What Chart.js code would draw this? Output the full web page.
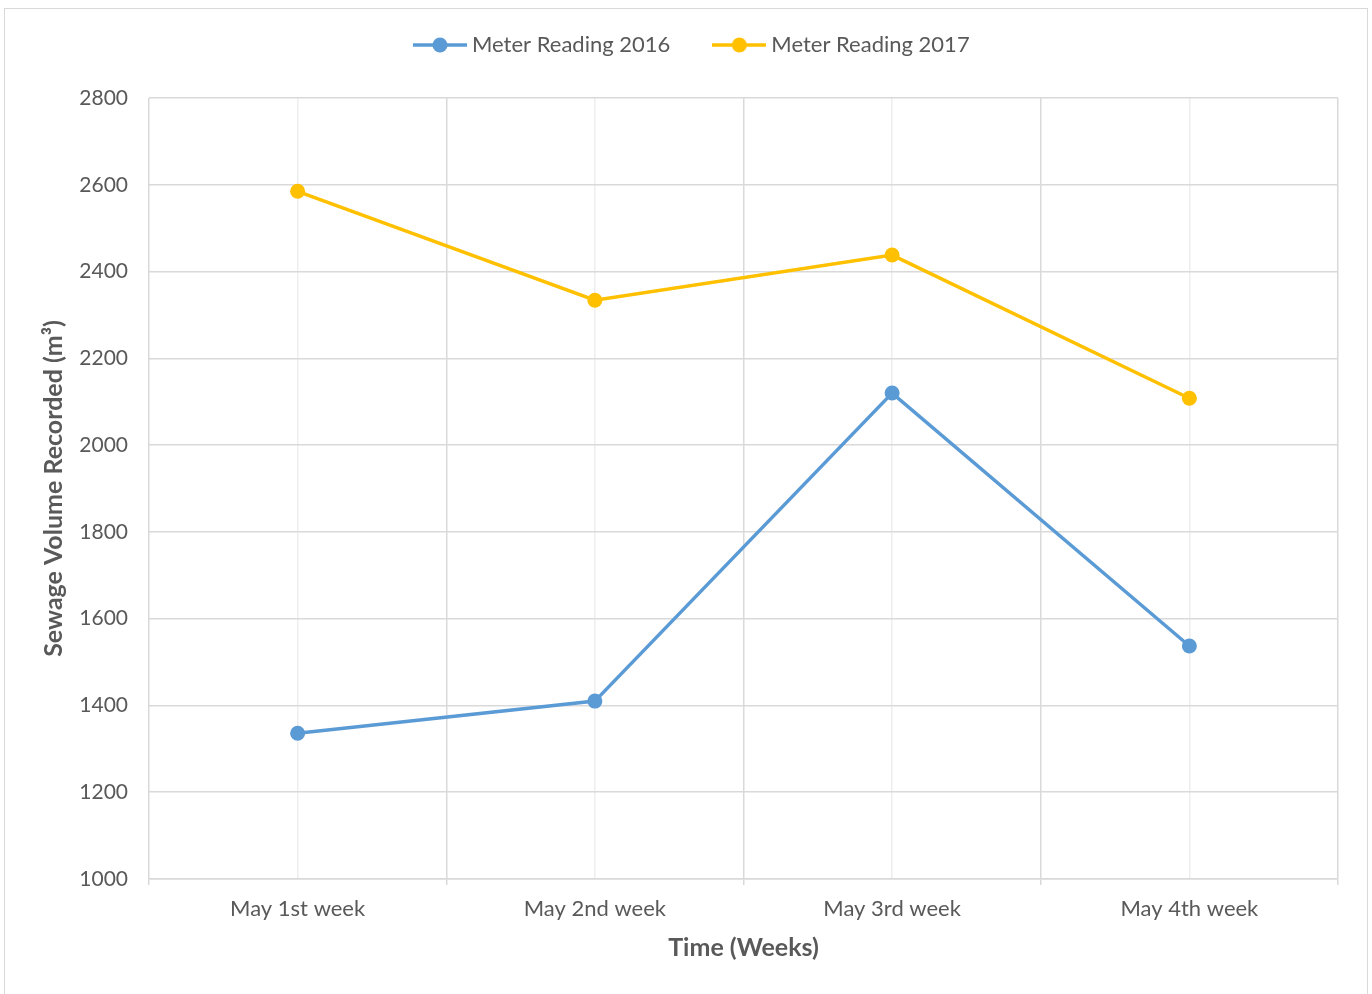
<!DOCTYPE html>
<html>
<head>
<meta charset="utf-8">
<script src="https://cdn.jsdelivr.net/npm/chart.js@4"></script>
<style>
  html, body { margin: 0; padding: 0; background: #fff; }
  #frame { position: absolute; left: 4px; top: 8px; width: 1364px; height: 1000px; border: 1px solid #d9d9d9; box-sizing: border-box; }
  #wrap { position: absolute; left: 0; top: 0; width: 1372px; height: 994px; }
</style>
</head>
<body>
<div id="frame"></div>
<div id="wrap"><canvas id="c" width="1372" height="994"></canvas></div>
<script>
const categories = ['May 1st week', 'May 2nd week', 'May 3rd week', 'May 4th week'];
const seriesNames = ['Meter Reading 2016', 'Meter Reading 2017'];
const reading2016 = [1336, 1410, 2120, 1537];
const reading2017 = [2585, 2334, 2438, 2108];
const yTicks = { min: 1000, max: 2800, step: 200 };
const xTitle = 'Time (Weeks)';
const yTitle = 'Sewage Volume Recorded (m³)';

const colors = ['#5b9bd5', '#ffc000'];
const FONT = 'Lato, "Open Sans", sans-serif';
const TEXT = '#595959';

function legendIcon(color) {
  const c = document.createElement('canvas');
  c.width = 54; c.height = 16;
  const g = c.getContext('2d');
  g.strokeStyle = color; g.lineWidth = 3.5;
  g.beginPath(); g.moveTo(0, 8); g.lineTo(54, 8); g.stroke();
  g.fillStyle = color;
  g.beginPath(); g.arc(27, 8, 7.5, 0, Math.PI * 2); g.fill();
  return c;
}
const icons = colors.map(legendIcon);

const LEGEND_BAND = 98;   // space above the plot area
const legendPlacer = {
  id: 'legendPlacer',
  beforeLayout(chart) {
    const lg = chart.legend;
    if (lg && !lg._wrappedFit) {
      const origFit = lg.fit.bind(lg);
      lg.fit = function () { origFit(); this.height = LEGEND_BAND; };
      lg._wrappedFit = true;
    }
  },
  afterLayout(chart) {
    const lg = chart.legend;
    if (!lg) return;
    const pad = lg.options.labels.padding;
    const h = lg.height;
    lg.top = 45 - 11 - pad;
    lg.bottom = lg.top + h;
    const lw = lg.lineWidths[0];
    const w = lg.right - lg.left;
    lg.left = (838 - pad - w + lw) / 2;
    lg.right = lg.left + w;
  }
};

new Chart(document.getElementById('c'), {
  type: 'line',
  data: {
    labels: categories,
    datasets: [
      { label: seriesNames[0], data: reading2016, borderColor: colors[0], backgroundColor: colors[0],
        borderWidth: 3.5, pointRadius: 7.5, pointHoverRadius: 7.5, pointBorderWidth: 0, tension: 0 },
      { label: seriesNames[1], data: reading2017, borderColor: colors[1], backgroundColor: colors[1],
        borderWidth: 3.5, pointRadius: 7.5, pointHoverRadius: 7.5, pointBorderWidth: 0, tension: 0 }
    ]
  },
  plugins: [legendPlacer],
  options: {
    responsive: false,
    animation: false,
    layout: { padding: { left: 0, right: 34, top: 0, bottom: 0 } },
    plugins: {
      tooltip: { enabled: false },
      legend: {
        position: 'top',
        labels: {
          usePointStyle: true,
          pointStyleWidth: 42,
          padding: 48,
          color: TEXT,
          font: { family: FONT, size: 22 },
          generateLabels(chart) {
            return chart.data.datasets.map((ds, i) => ({
              text: ds.label, fillStyle: colors[i], strokeStyle: colors[i], lineWidth: 0,
              pointStyle: icons[i], datasetIndex: i, hidden: false, fontColor: TEXT
            }));
          }
        }
      }
    },
    scales: {
      x: {
        type: 'category',
        offset: true,
        grid: { offset: true, color: '#d9d9d9', lineWidth: 1.5, tickLength: 6, drawTicks: true },
        border: { color: '#d9d9d9', width: 1.5 },
        ticks: { color: TEXT, font: { family: FONT, size: 22 }, padding: 11, maxRotation: 0 },
        title: { display: true, text: xTitle, color: TEXT, font: { family: FONT, size: 25, weight: 'bold' }, padding: { top: 0, bottom: 31 } },
        afterFit(scale) { scale.height = 115; }
      },
      x2: {
        type: 'category',
        labels: categories,
        position: 'bottom',
        offset: true,
        grid: { offset: false, color: '#eeeeee', lineWidth: 1.5, drawTicks: false },
        border: { display: false },
        ticks: { display: false },
        afterFit(scale) { scale.height = 0; }
      },
      y: {
        min: yTicks.min, max: yTicks.max,
        grid: { color: '#d9d9d9', lineWidth: 1.5, drawTicks: false },
        border: { display: false },
        ticks: { stepSize: yTicks.step, color: TEXT, font: { family: FONT, size: 21 }, padding: 21,
                 callback: v => String(v) },
        title: { display: true, text: yTitle, color: TEXT, font: { family: FONT, size: 25, weight: 'bold' }, padding: { top: 39, bottom: 0 } },
        afterFit(scale) { scale.width = 149; }
      }
    }
  }
});
</script>
</body>
</html>
